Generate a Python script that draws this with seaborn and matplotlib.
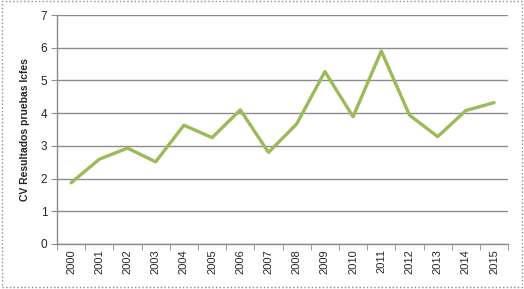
import numpy as np
import pandas as pd
import seaborn as sns
import matplotlib.pyplot as plt
from matplotlib.patches import Rectangle

years = [str(y) for y in range(2000, 2016)]
cv = [1.87, 2.59, 2.93, 2.51, 3.63, 3.25, 4.10, 2.80, 3.67, 5.27, 3.89, 5.90, 3.94, 3.28, 4.08, 4.32]

df = pd.DataFrame({"year": years, "cv": cv})

sns.set_style("white")
plt.rcParams['font.family'] = ['Liberation Sans', 'DejaVu Sans']

fig = plt.figure(figsize=(5.24, 2.89), dpi=100)
ax = fig.add_axes([0.1088, 0.156, 0.861, 0.792])

sns.lineplot(data=df, x="year", y="cv", ax=ax, color="#9BBB59", linewidth=2.4)

ax.set_xlim(-0.5, 15.5)
ax.set_ylim(0, 7)
ax.set_yticks(range(0, 8))
ax.yaxis.grid(True, color="#8c8c8c", linewidth=1.0)
ax.set_axisbelow(True)

ax.set_xticks(np.arange(16))
ax.set_xticklabels(years, rotation=90, fontsize=8)
ax.set_xticks(np.arange(-0.5, 16, 1), minor=True)
ax.tick_params(axis="x", which="major", length=0, pad=4)
ax.tick_params(axis="x", which="minor", length=4, color="#8c8c8c", direction="out")
ax.tick_params(axis="y", length=4, color="#8c8c8c", direction="out", labelsize=8.5, pad=3)
ax.tick_params(axis="both", which="both", bottom=True, left=True)

for s in ["top", "right"]:
    ax.spines[s].set_visible(False)
for s in ["left", "bottom"]:
    ax.spines[s].set_color("#8c8c8c")
    ax.spines[s].set_linewidth(1.0)

ax.set_xlabel("")
ax.set_ylabel("CV Resultados pruebas Icfes", fontsize=7.5, fontweight="bold", labelpad=8)

fig.patches.append(Rectangle((0.003, 0.008), 0.994, 0.988, transform=fig.transFigure,
                             fill=False, edgecolor="#8c8c8c", linestyle=":", linewidth=1.0))

fig.savefig("out.png", dpi=100)
